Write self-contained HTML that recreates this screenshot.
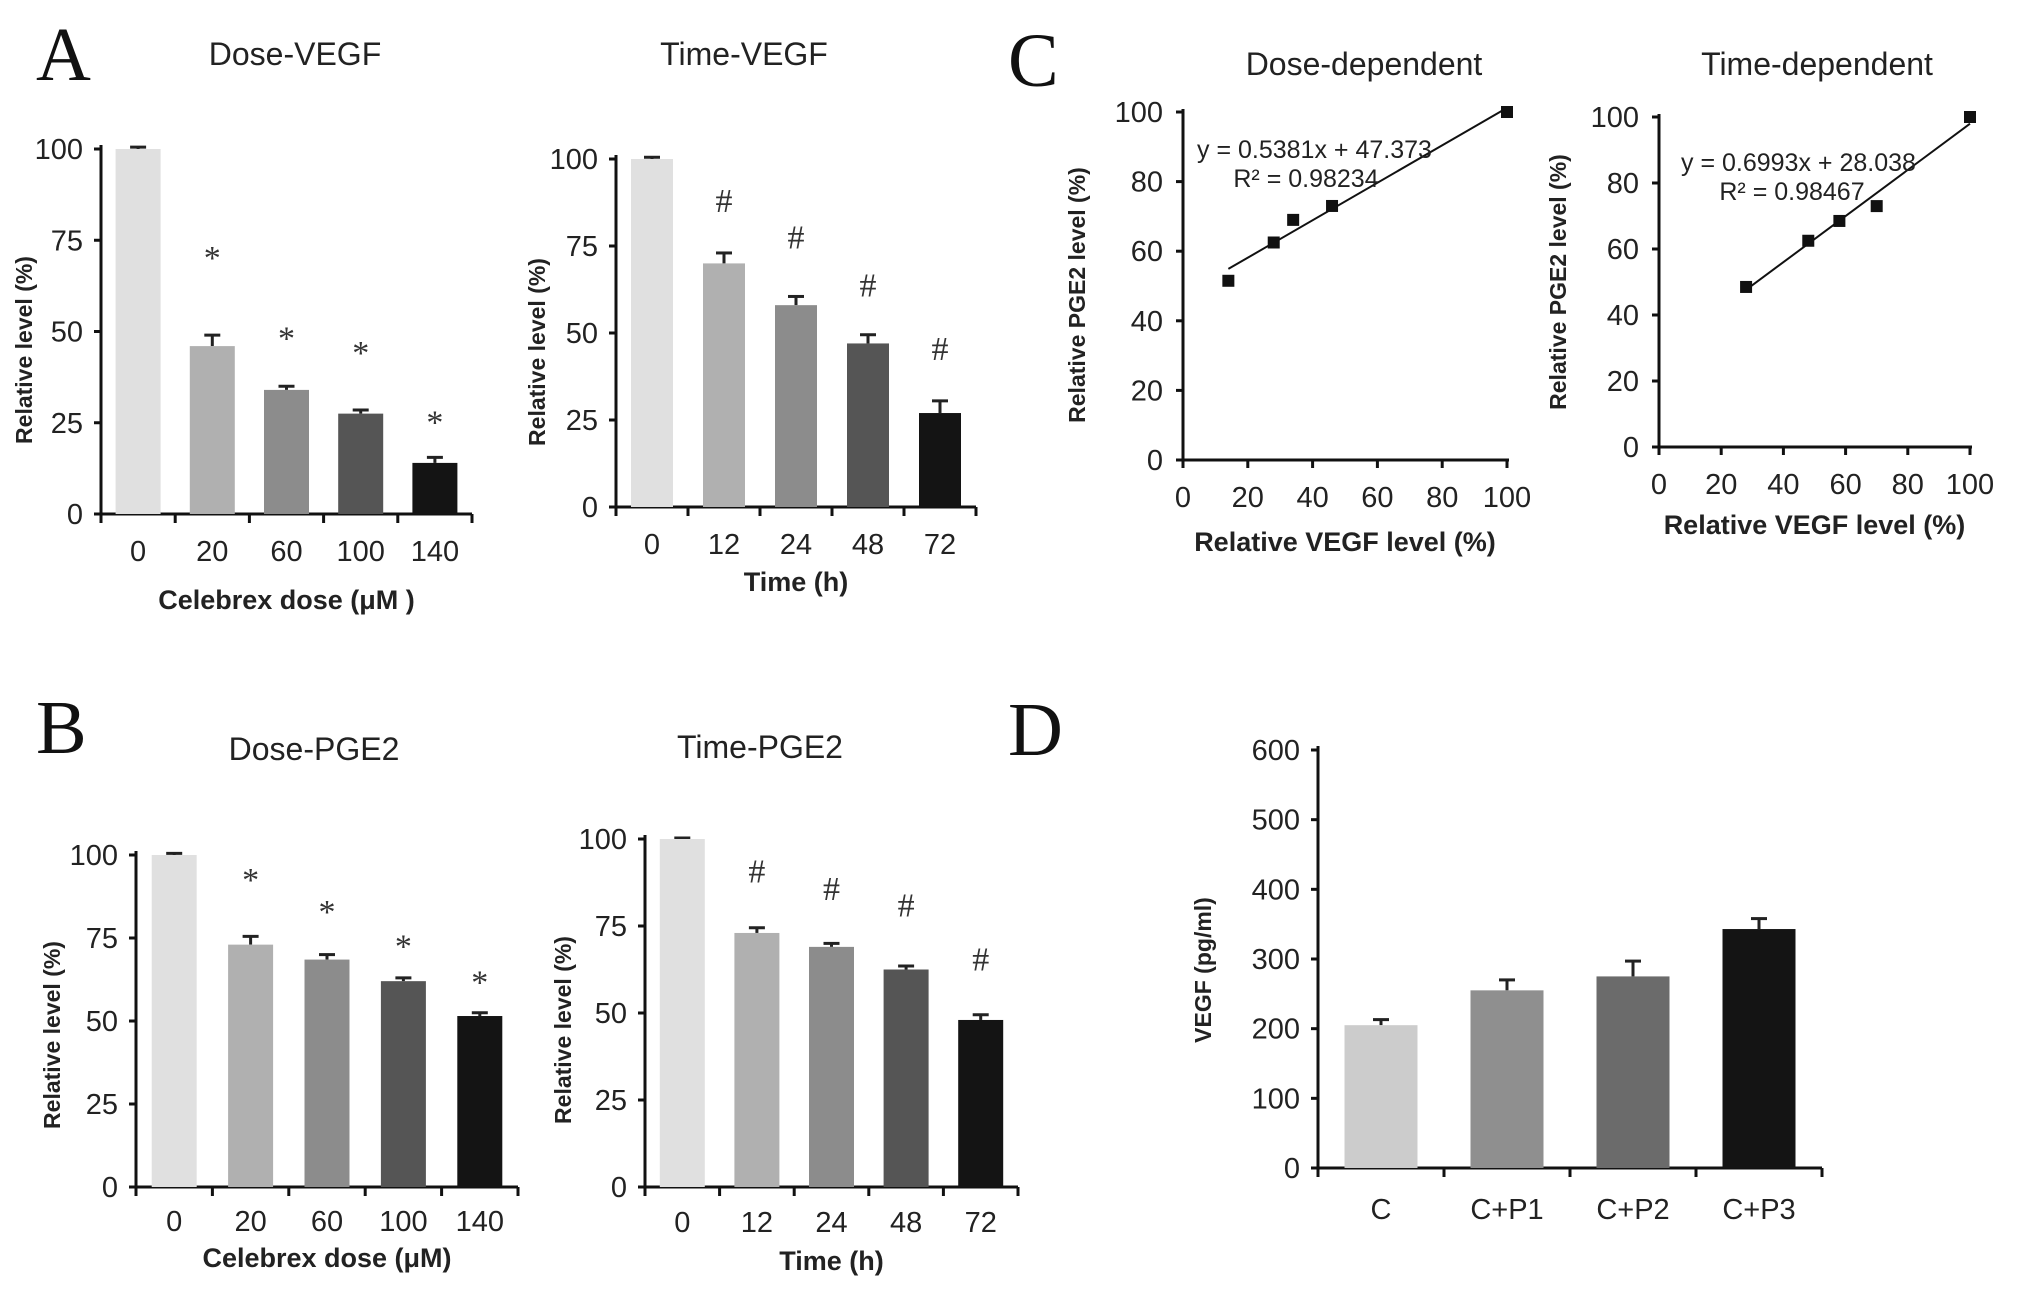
<!DOCTYPE html>
<html><head><meta charset="utf-8"><style>
body{margin:0;background:#fff;overflow:hidden;}
svg{display:block;}
text{font-family:"Liberation Sans Narrow","Liberation Sans",sans-serif;fill:#222;}
.tick{font-size:29px;}
.ttl{font-size:32px;}
.ylab{font-family:"Liberation Sans",sans-serif;font-weight:bold;font-size:23px;}
.xlab{font-weight:bold;font-size:27px;}
.pl{font-family:"Liberation Serif",serif;font-size:76px;fill:#111;}
.mk{font-family:"Liberation Serif",serif;font-size:34px;fill:#333;}
.eq{font-size:25px;}
</style></head><body>
<svg id="fig" width="2031" height="1303" viewBox="0 0 2031 1303" xmlns="http://www.w3.org/2000/svg">
<text class="pl" x="36" y="80">A</text>
<text class="pl" x="36" y="753">B</text>
<text class="pl" x="1008" y="86">C</text>
<text class="pl" x="1008" y="755">D</text>
</svg>
<script>
const doseCats=["0","20","60","100","140"];
const timeCats=["0","12","24","48","72"];
const doseVegf=[100,46,34,27.5,14];
const doseVegfErr=[100.5,49,35,28.5,15.5];
const doseVegfMark=[null,72,50,46,27];
const timeVegf=[100,70,58,47,27];
const timeVegfErr=[100.5,73,60.5,49.5,30.5];
const timeVegfMark=[null,88,77.4,63.7,45.4];
const dosePge=[100,73,68.5,62,51.5];
const dosePgeErr=[100.5,75.5,70,63,52.5];
const dosePgeMark=[null,94.6,85,74.5,63.7];
const timePge=[100,73,69,62.5,48];
const timePgeErr=[100.3,74.5,70,63.5,49.5];
const timePgeMark=[null,90.6,85.7,80.9,65.4];
const dCats=["C","C+P1","C+P2","C+P3"];
const dVals=[205,255,275,343];
const dErr=[213,270,297,358];
const pctTicks=[0,25,50,75,100];
const dTicks=[0,100,200,300,400,500,600];
const scTicks=[0,20,40,60,80,100];
const scDoseX=[14,28,34,46,100];
const scDoseY=[51.5,62.5,69,73,100];
const scTimeX=[28,48,58,70,100];
const scTimeY=[48.5,62.5,68.5,73,100];
const grays5=["#e0e0e0","#b0b0b0","#8c8c8c","#555","#141414"];
const grays4=["#cccccc","#8f8f8f","#6b6b6b","#141414"];
const NS="http://www.w3.org/2000/svg";
const svg=document.getElementById('fig');
function el(tag,attrs,txt){const e=document.createElementNS(NS,tag);for(const k in attrs)e.setAttribute(k,attrs[k]);if(txt!==undefined)e.textContent=txt;svg.appendChild(e);return e;}

function barChart(o){
  const sy=v=>o.y0-(v/o.max)*(o.y0-o.ytop);
  const n=o.cats.length, step=(o.x1-o.x0)/n;
  const sx=i=>o.x0+step*(i+0.5);
  let e;
  e=el('line',{x1:o.x0,y1:o.ytop-4,x2:o.x0,y2:o.y0+2,stroke:'#111','stroke-width':3});
  
  
  e=el('line',{x1:o.x0,y1:o.y0,x2:o.x1,y2:o.y0,stroke:'#111','stroke-width':3});
  
  
  for(let i=0;i<=n;i++){e=el('line',{x1:o.x0+step*i,y1:o.y0,x2:o.x0+step*i,y2:o.y0+9,stroke:'#111','stroke-width':3});
    
    }
  o.ticks.forEach(t=>{
    e=el('line',{x1:o.x0-7,y1:sy(t),x2:o.x0,y2:sy(t),stroke:'#111','stroke-width':3});
    
    
    e=el('text',{class:'tick',x:o.x0-18,y:sy(t)+10,'text-anchor':'end'},String(t));
    
    
  });
  o.vals.forEach((v,i)=>{
    const cx=sx(i);
    e=el('line',{x1:cx,y1:sy(o.err[i]),x2:cx,y2:sy(v),stroke:'#222','stroke-width':3});
    
    
    e=el('line',{x1:cx-8,y1:sy(o.err[i]),x2:cx+8,y2:sy(o.err[i]),stroke:'#222','stroke-width':3});
    
    
    e=el('rect',{x:cx-o.bw/2,y:sy(v),width:o.bw,height:o.y0-sy(v),fill:o.colors[i]});
    
    
    e=el('text',{class:'tick',x:cx,y:o.tickY+10,'text-anchor':'middle'},o.cats[i]);
    
    
    if(o.marks&&o.marks[i]!=null){
      e=el('text',{class:'mk',x:cx,y:sy(o.marks[i])+(o.mark==='*'?18:11),'text-anchor':'middle'},o.mark);
      
      
    }
  });
  if(o.title){e=el('text',{class:'ttl',x:o.titleX,y:o.titleY+11,'text-anchor':'middle'},o.title);
    
    }
  if(o.xlab){e=el('text',{class:'xlab',x:(o.x0+o.x1)/2,y:o.xlabY+9,'text-anchor':'middle'},o.xlab);
    
    }
  e=el('text',{class:'ylab',x:0,y:0,'text-anchor':'middle',transform:`translate(${o.ylabX+8},${o.ylabY}) rotate(-90)`},o.ylab);
  
  
}

barChart({id:'dose-vegf',cats:doseCats,vals:doseVegf,err:doseVegfErr,marks:doseVegfMark,colors:grays5,ticks:pctTicks,max:100,
 x0:101,x1:472,y0:514,ytop:149,bw:45,tickY:551,title:'Dose-VEGF',titleX:295,titleY:54,xlab:'Celebrex dose (μM )',xlabY:600,
 ylab:'Relative level (%)',ylabX:24,ylabY:350,mark:'*'});
barChart({id:'time-vegf',cats:timeCats,vals:timeVegf,err:timeVegfErr,marks:timeVegfMark,colors:grays5,ticks:pctTicks,max:100,
 x0:616,x1:976,y0:507,ytop:159,bw:42,tickY:544,title:'Time-VEGF',titleX:744,titleY:54,xlab:'Time (h)',xlabY:582,
 ylab:'Relative level (%)',ylabX:537,ylabY:352,mark:'#'});
barChart({id:'dose-pge2',cats:doseCats,vals:dosePge,err:dosePgeErr,marks:dosePgeMark,colors:grays5,ticks:pctTicks,max:100,
 x0:136,x1:518,y0:1187,ytop:855,bw:45,tickY:1221,title:'Dose-PGE2',titleX:314,titleY:749,xlab:'Celebrex dose (μM)',xlabY:1258,
 ylab:'Relative level (%)',ylabX:52,ylabY:1035,mark:'*'});
barChart({id:'time-pge2',cats:timeCats,vals:timePge,err:timePgeErr,marks:timePgeMark,colors:grays5,ticks:pctTicks,max:100,
 x0:645,x1:1018,y0:1187,ytop:839,bw:45,tickY:1222,title:'Time-PGE2',titleX:760,titleY:747,xlab:'Time (h)',xlabY:1261,
 ylab:'Relative level (%)',ylabX:563,ylabY:1030,mark:'#'});
barChart({id:'vegf-pg',cats:dCats,vals:dVals,err:dErr,colors:grays4,ticks:dTicks,max:600,
 x0:1318,x1:1822,y0:1168,ytop:750,bw:73,tickY:1209,title:'',
 ylab:'VEGF (pg/ml)',ylabX:1203,ylabY:970});

function scatter(o){
  const sx=v=>o.x0+(v/100)*(o.x1-o.x0), sy=v=>o.y0-(v/100)*(o.y0-o.ytop);
  let e;
  e=el('line',{x1:o.x0,y1:o.ytop-3,x2:o.x0,y2:o.y0+2,stroke:'#111','stroke-width':3});
  
  
  e=el('line',{x1:o.x0,y1:o.y0,x2:o.x1+2,y2:o.y0,stroke:'#111','stroke-width':3});
  
  
  scTicks.forEach(t=>{
    e=el('line',{x1:o.x0-7,y1:sy(t),x2:o.x0,y2:sy(t),stroke:'#111','stroke-width':3});
    
    
    e=el('text',{class:'tick',x:o.x0-20,y:sy(t)+10,'text-anchor':'end'},String(t));
    
    
    e=el('line',{x1:sx(t),y1:o.y0,x2:sx(t),y2:o.y0+8,stroke:'#111','stroke-width':3});
    
    
    e=el('text',{class:'tick',x:sx(t),y:o.tickY+10,'text-anchor':'middle'},String(t));
    
    
  });
  const xmin=Math.min(...o.xs),xmax=Math.max(...o.xs);
  e=el('line',{x1:sx(xmin),y1:sy(o.m*xmin+o.b),x2:sx(xmax),y2:sy(o.m*xmax+o.b),stroke:'#111','stroke-width':2});
  
  
  o.xs.forEach((x,i)=>{
    e=el('rect',{x:sx(x)-6,y:sy(o.ys[i])-6,width:12,height:12,fill:'#111'});
    
    
  });
  e=el('text',{class:'eq',x:o.eqX,y:o.eqY+9},o.eq);
  
  
  e=el('text',{class:'eq',x:o.r2X,y:o.r2Y+9,'text-anchor':'middle'},o.r2);
  
  
  e=el('text',{class:'ttl',x:o.titleX,y:o.titleY+11,'text-anchor':'middle'},o.title);
  
  
  e=el('text',{class:'xlab',x:(o.x0+o.x1)/2,y:o.xlabY+9,'text-anchor':'middle'},'Relative VEGF level (%)');
  
  
  e=el('text',{class:'ylab',x:0,y:0,'text-anchor':'middle',transform:`translate(${o.ylabX+8},${o.ylabY}) rotate(-90)`},'Relative PGE2 level (%)');
  
  
}
scatter({id:'dose-dependent',xs:scDoseX,ys:scDoseY,m:0.5381,b:47.373,x0:1183,x1:1507,y0:460,ytop:112,tickY:497,
 eq:'y = 0.5381x + 47.373',r2:'R² = 0.98234',eqX:1197,eqY:149,r2X:1306,r2Y:178,title:'Dose-dependent',titleX:1364,titleY:64,xlabY:542,ylabX:1077,ylabY:295});
scatter({id:'time-dependent',xs:scTimeX,ys:scTimeY,m:0.6993,b:28.038,x0:1659,x1:1970,y0:447,ytop:117,tickY:484,
 eq:'y = 0.6993x + 28.038',r2:'R² = 0.98467',eqX:1681,eqY:162,r2X:1792,r2Y:191,title:'Time-dependent',titleX:1817,titleY:64,xlabY:525,ylabX:1558,ylabY:282});
</script>
</body></html>
